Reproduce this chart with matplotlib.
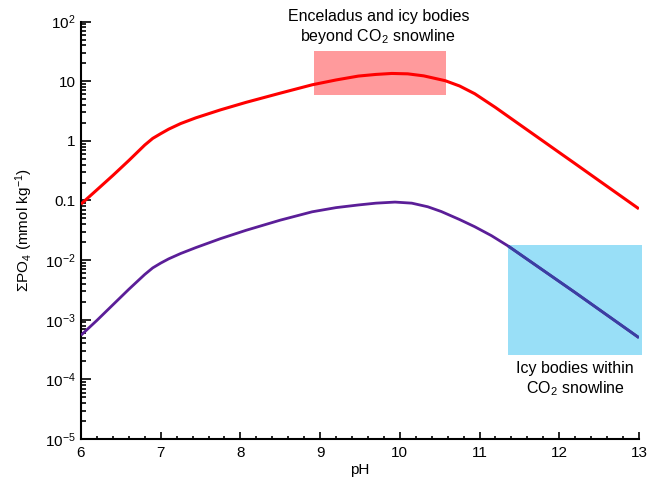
import matplotlib
matplotlib.use("Agg")
import matplotlib.pyplot as plt
from matplotlib.ticker import FixedLocator, FuncFormatter, LogLocator, MultipleLocator, NullFormatter
from matplotlib.patches import Rectangle

plt.rcParams['font.family'] = ['Liberation Sans', 'DejaVu Sans']
plt.rcParams['mathtext.fontset'] = 'custom'
plt.rcParams['mathtext.rm'] = 'Liberation Sans'
plt.rcParams['mathtext.it'] = 'Liberation Sans:italic'
plt.rcParams['mathtext.bf'] = 'Liberation Sans:bold'

# --- data ---
ph_red = [6.0, 6.2, 6.4, 6.6, 6.8, 6.9, 7.0, 7.1, 7.25, 7.44, 7.75, 8.07, 8.5, 8.9, 9.2, 9.48, 9.7,
          9.9, 10.1, 10.3, 10.57, 10.75, 10.94, 11.2, 11.4, 11.56, 11.8, 12.0, 12.19, 12.5, 13.0]
po4_red = [0.087, 0.151, 0.263, 0.468, 0.851, 1.10, 1.32, 1.57, 1.95, 2.43, 3.31, 4.42, 6.31, 8.71, 10.5, 12.2, 13.0,
           13.5, 13.3, 12.3, 10.2, 8.32, 6.17, 3.63, 2.35, 1.66, 0.986, 0.638, 0.423, 0.215, 0.0724]

ph_purple = [6.0, 6.2, 6.4, 6.6, 6.8, 6.9, 7.0, 7.1, 7.25, 7.44, 7.75, 8.07, 8.5, 8.9, 9.2, 9.48, 9.7,
             9.94, 10.15, 10.35, 10.52, 10.75, 10.94, 11.15, 11.36, 12.19, 13.0]
po4_purple = [5.5e-4, 9.77e-4, 1.78e-3, 3.24e-3, 5.75e-3, 7.41e-3, 8.91e-3, 0.0105, 0.0129, 0.0162, 0.0229, 0.0316,
              0.0468, 0.0646, 0.0759, 0.0841, 0.0902, 0.0940, 0.0902, 0.0785, 0.0653, 0.0479, 0.0363, 0.0257,
              0.0172, 2.92e-3, 5.0e-4]

# annotated regions: (pH min, pH max, PO4 min, PO4 max)
enceladus_box = (8.92, 10.58, 5.97, 31.8)
within_box = (11.36, 13.04, 2.6e-4, 0.0176)

yticks = [1e-5, 1e-4, 1e-3, 1e-2, 0.1, 1, 10, 100]
ytick_labels = ['$10^{-5}$', '$10^{-4}$', '$10^{-3}$', '$10^{-2}$', '0.1', '1', '10', '$10^{2}$']
xticks = [6, 7, 8, 9, 10, 11, 12, 13]

fig = plt.figure(figsize=(6.48, 4.82), dpi=100)
ax = fig.add_axes([0.125, 0.0892, 0.861, 0.8660])

ax.set_yscale('log')
ax.set_xlim(6, 13)
ax.set_ylim(1e-5, 1e2)

# boxes
x0, x1, y0, y1 = enceladus_box
ax.add_patch(Rectangle((x0, y0), x1 - x0, y1 - y0, facecolor='#ff9a9c', edgecolor='none', zorder=1))
x0, x1, y0, y1 = within_box
ax.add_patch(Rectangle((x0, y0), x1 - x0, y1 - y0, facecolor='#99dff7', edgecolor='none', zorder=1, clip_on=False))

ax.plot(ph_red, po4_red, color='#ff0000', lw=2.2, zorder=3, solid_joinstyle='round', solid_capstyle='butt')
ax.plot(ph_purple, po4_purple, color='#5b1e98', lw=2.0, zorder=3, solid_joinstyle='round', solid_capstyle='butt')
# part of purple line inside the blue box appears blended blue
idx = [i for i, p in enumerate(ph_purple) if p >= within_box[0]]
ax.plot([ph_purple[i] for i in idx], [po4_purple[i] for i in idx], color='#3a3fa3', lw=2.0, zorder=4,
        solid_capstyle='butt')

# axes styling
for s in ['top', 'right']:
    ax.spines[s].set_visible(False)
for s in ['left', 'bottom']:
    ax.spines[s].set_linewidth(1.5)

ax.xaxis.set_major_locator(FixedLocator(xticks))
ax.xaxis.set_minor_locator(MultipleLocator(0.2))
ax.yaxis.set_major_locator(FixedLocator(yticks))
ax.yaxis.set_major_formatter(FuncFormatter(lambda v, p: ytick_labels[yticks.index(min(yticks, key=lambda t: abs(t - v) / t))]))
ax.yaxis.set_minor_locator(LogLocator(base=10, subs=range(2, 10)))
ax.yaxis.set_minor_formatter(NullFormatter())

ax.tick_params(axis='x', which='major', direction='in', length=5, width=1.2, labelsize=11, pad=5)
ax.tick_params(axis='x', which='minor', direction='in', length=2.5, width=1.2)
ax.tick_params(axis='y', which='major', direction='in', length=7, width=1.2, labelsize=11, pad=4)
ax.tick_params(axis='y', which='minor', direction='in', length=3.5, width=1.2)

ax.set_xlabel('pH', fontsize=11, labelpad=2)
ax.set_ylabel('ΣPO$_4$ (mmol kg$^{-1}$)', fontsize=11, labelpad=7)

ax.text(9.73, 80, 'Enceladus and icy bodies\nbeyond CO$_2$ snowline', ha='center', va='center',
        fontsize=11.5, linespacing=1.2, clip_on=False)
ax.text(12.2, 1.0e-4, 'Icy bodies within\nCO$_2$ snowline', ha='center', va='center',
        fontsize=11.5, linespacing=1.2)

fig.savefig('out.png', dpi=100)
